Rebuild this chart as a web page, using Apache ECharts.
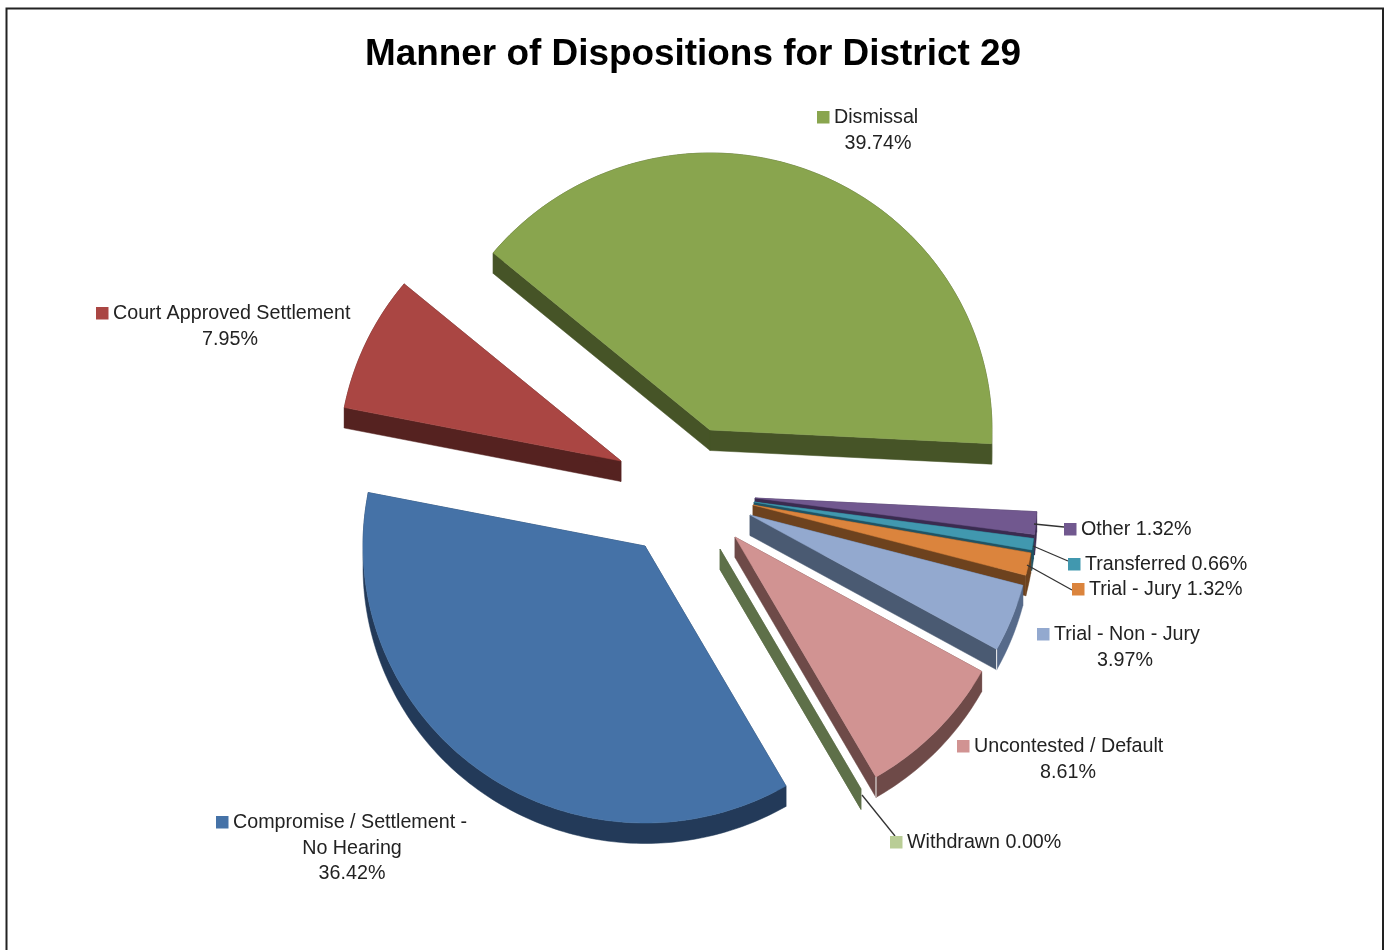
<!DOCTYPE html>
<html>
<head>
<meta charset="utf-8">
<style>html,body{margin:0;padding:0;background:#fff;overflow:hidden}#c{width:1385px;height:950px}</style>
<script src="https://cdn.jsdelivr.net/npm/echarts@6/dist/echarts.min.js"></script>
</head>
<body>
<div id="c"></div>
<script>
// ---- data ----
const titleText = 'Manner of Dispositions for District 29';
const categories = ['Dismissal', 'Other', 'Transferred', 'Trial - Jury', 'Trial - Non - Jury',
  'Uncontested / Default', 'Withdrawn', 'Compromise / Settlement -\nNo Hearing', 'Court Approved Settlement'];
const values = [39.74, 1.32, 0.66, 1.32, 3.97, 8.61, 0.00, 36.42, 7.95];

// ---- styles ----
const topColors  = ['#89A54E', '#71588F', '#4198AF', '#DB843D', '#93A9CF', '#D19392', '#B9CD96', '#4572A7', '#AA4643'];
const wallColors = ['#465427', '#3A2B50', '#1F5364', '#6D421E', '#4A5A72', '#6E4A48', '#5E7049', '#233A59', '#552220'];
const arcColors  = ['#465427', '#3A2B50', '#1F5364', '#6D421E', '#566A8A', '#6E4A48', '#5E7049', '#233A59', '#552220'];

// ---- layout (pixels) ----
const startAngle = -50.25, rx = 282, ry = 277, depth = 20.5;
const apexX = [710, 755, 754, 753, 750, 735, 720, 645, 621];
const apexY = [430, 498, 502, 505, 515, 537, 549, 546, 461];
const cornerEdge = [false, false, false, false, true, true, false, false, false];
const keyX = [817, 1064, 1068, 1072, 1037, 957, 890, 216, 96];
const keyY = [117, 529, 564, 589, 634, 746, 842, 822, 313];
const inlineValue = [false, true, true, true, false, false, true, false, false];
const wrapCenterX = [878, 0, 0, 0, 1125, 1068, 0, 352, 230];
const leaders = [null, [1034, 524, 1064, 527], [1033, 546, 1068, 561], [1027, 565, 1072, 590],
  null, null, [862, 795, 895, 836], null, null];

const font = '19.7px "Liberation Sans", Arial, sans-serif';
const total = values.reduce((a, b) => a + b, 0);
const cum = [];
values.reduce((a, v, i) => (cum[i] = a, a + v), 0);

function angleOf(pct) { return (startAngle + pct / total * 360) * Math.PI / 180; }
function rim(cx, cy, a, dy) { return [cx + rx * Math.sin(a), cy - ry * Math.cos(a) + (dy || 0)]; }
function arcPts(cx, cy, a0, a1, dy) {
  const n = Math.max(1, Math.ceil((a1 - a0) / (Math.PI / 180)));
  const pts = [];
  for (let k = 0; k <= n; k++) pts.push(rim(cx, cy, a0 + (a1 - a0) * k / n, dy));
  return pts;
}

function renderSlice(params, api) {
  const i = params.dataIndex;
  const v = api.value(0);
  const a0 = angleOf(cum[i]), a1 = angleOf(cum[i] + v);
  const cx = apexX[i], cy = apexY[i];
  const kids = [];
  const wall = (pts, c) => kids.push({ type: 'polygon', shape: { points: pts }, style: { fill: c, stroke: c, lineWidth: 0.5 } });
  const p0 = rim(cx, cy, a0), p1 = rim(cx, cy, a1);
  wall([[cx, cy], p0, [p0[0], p0[1] + depth], [cx, cy + depth]], wallColors[i]);
  wall([[cx, cy], p1, [p1[0], p1[1] + depth], [cx, cy + depth]], wallColors[i]);
  if (v > 0) {
    const top = arcPts(cx, cy, a0, a1, 0);
    const bottom = arcPts(cx, cy, a0, a1, depth).reverse();
    wall(top.concat(bottom), arcColors[i]);
    kids.push({ type: 'polygon', shape: { points: [[cx, cy]].concat(top) }, style: { fill: topColors[i], stroke: topColors[i], lineWidth: 0.5 } });
    if (cornerEdge[i]) {
      kids.push({ type: 'line', shape: { x1: p1[0], y1: p1[1], x2: p1[0], y2: p1[1] + depth }, style: { stroke: '#f4f4f4', lineWidth: 1 } });
    }
  }
  return { type: 'group', children: kids };
}

function renderLabel(params, api) {
  const i = params.dataIndex;
  const pct = api.value(0).toFixed(2) + '%';
  const kids = [];
  const ink = '#222';
  if (leaders[i]) {
    const l = leaders[i];
    kids.push({ type: 'line', shape: { x1: l[0], y1: l[1], x2: l[2], y2: l[3] }, style: { stroke: '#333', lineWidth: 1.3 } });
  }
  kids.push({ type: 'rect', shape: { x: keyX[i], y: keyY[i] - 6, width: 12.5, height: 12.5 }, style: { fill: topColors[i] } });
  const lines = categories[i].split('\n');
  if (inlineValue[i]) lines[0] += ' ' + pct; else lines.push(pct);
  lines.forEach((t, k) => {
    kids.push({
      type: 'text',
      style: k === 0
        ? { x: keyX[i] + 17, y: keyY[i] + 1, text: t, font, fill: ink, textAlign: 'left', textVerticalAlign: 'middle' }
        : { x: wrapCenterX[i], y: keyY[i] + 1 + k * 25.5, text: t, font, fill: ink, textAlign: 'center', textVerticalAlign: 'middle' }
    });
  });
  return { type: 'group', children: kids };
}

const chart = echarts.init(document.getElementById('c'), null, { renderer: 'canvas' });
chart.setOption({
  animation: false,
  backgroundColor: '#fff',
  title: {
    text: titleText, left: 688, top: 31, textAlign: 'center',
    textStyle: { fontFamily: '"Liberation Sans", Arial, sans-serif', fontWeight: 'bold', fontSize: 36.9, color: '#000' }
  },
  graphic: [{ type: 'rect', silent: true, z: -1, shape: { x: 6.5, y: 8.5, width: 1376.5, height: 960 }, style: { fill: 'none', stroke: '#222', lineWidth: 2 } }],
  series: [
    { type: 'custom', coordinateSystem: 'none', silent: true, data: values.map(v => [v]), renderItem: renderSlice, z: 2 },
    { type: 'custom', coordinateSystem: 'none', silent: true, data: values.map(v => [v]), renderItem: renderLabel, z: 3 }
  ]
});
</script>
</body>
</html>
